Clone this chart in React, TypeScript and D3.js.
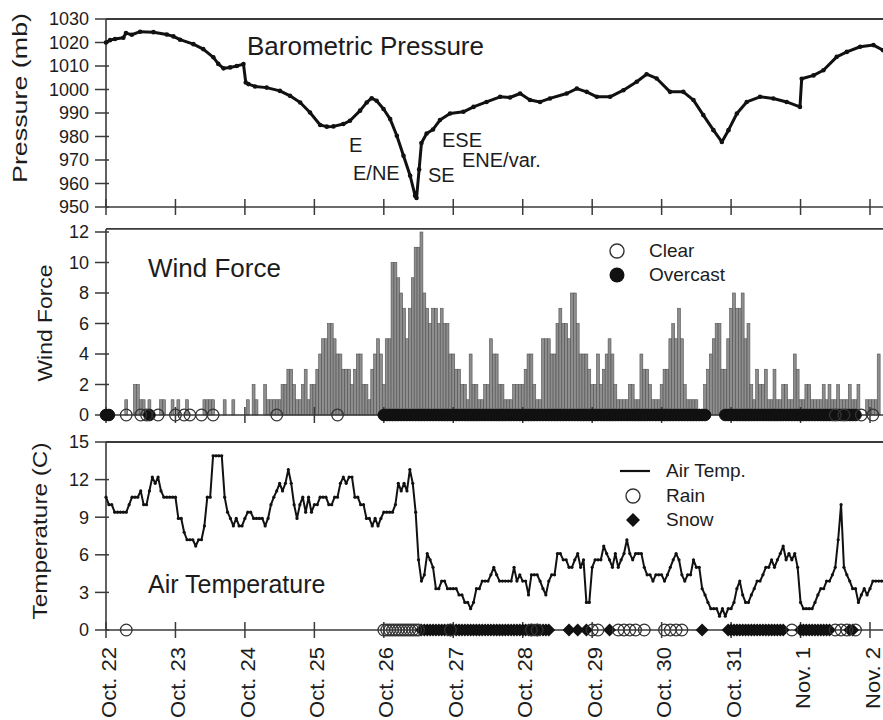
import React from "react";
import * as d3 from "d3";

const FONT = "'Liberation Sans', Arial, Helvetica, sans-serif";

const dayLabels = ["Oct. 22", "Oct. 23", "Oct. 24", "Oct. 25", "Oct. 26", "Oct. 27", "Oct. 28", "Oct. 29", "Oct. 30", "Oct. 31", "Nov. 1", "Nov. 2"];
const pressureTicks = [950, 960, 970, 980, 990, 1000, 1010, 1020, 1030];
const windTicks = [0, 2, 4, 6, 8, 10, 12];
const tempTicks = [0, 3, 6, 9, 12, 15];

// hours since Oct 22 00:00
const pressureHours = [0, 1.4, 3.1, 6, 6.9, 8.9, 11.8, 16.4, 21, 23.3, 25.6, 30.2, 33.6, 37.1, 38.8, 40.6, 42.9, 45.2, 47.5, 48.3, 49.2, 51.5, 55.5, 60.1, 63.6, 67.1, 70.5, 74, 76.3, 78.6, 82, 84.3, 87.8, 90.1, 91.8, 93.5, 95.9, 98.2, 100.5, 102.8, 105.1, 106.8, 107.3, 108.2, 109, 110.8, 113, 115.4, 118.9, 123.5, 127, 131.5, 136.2, 139.6, 143.1, 146.5, 150, 153.4, 159.2, 162.7, 166.1, 169.6, 174.2, 178.8, 183.4, 186.8, 190.3, 194.9, 199.5, 203, 206.4, 209.9, 212.8, 215.1, 218, 221.4, 226, 230.6, 235.2, 239.8, 240.4, 244.5, 247.9, 252.5, 256, 260.6, 265.2, 268.5];
const pressureMb = [1020, 1021, 1021.5, 1022, 1024, 1023.3, 1024.6, 1024.4, 1023.4, 1022.6, 1021.2, 1019.3, 1017.2, 1013.7, 1010.9, 1009, 1009.4, 1010, 1010.8, 1003, 1002.3, 1001.3, 1000.8, 999.4, 997.3, 994.5, 990.2, 984.9, 984.2, 984.3, 985.3, 986.7, 991, 994.5, 996.3, 995.2, 991.7, 987.4, 980.3, 971.8, 963.3, 954.8, 953.8, 966, 977.2, 981.3, 983, 987, 989.8, 990.5, 992.6, 994.7, 996.9, 996.6, 998.3, 995.5, 994.7, 996.2, 998.3, 1000.4, 999, 996.9, 996.9, 999.7, 1003.3, 1006.5, 1004.7, 999, 999, 995.5, 989.1, 982.7, 977.7, 982.7, 989.8, 994.7, 996.9, 996.2, 994.7, 992.6, 1004.6, 1006, 1008.2, 1013.9, 1016, 1018.2, 1018.9, 1016.7];

// hourly wind force from Oct 22 00:00
const windForce = [
  0, 0, 0, 0, 0, 0, 0, 1, 0, 0, 2, 2, 1, 1, 0, 1, 0, 0, 0, 1, 1, 0, 0, 1,
  0, 1, 0, 0, 1, 0, 0, 0, 0, 0, 1, 1, 1, 1, 0, 0, 0, 1, 0, 0, 1, 0, 0, 0,
  0, 1, 0, 2, 1, 0, 0, 2, 1, 1, 1, 1, 1, 2, 2, 3, 3, 2, 1, 1, 2, 3, 1, 2,
  2, 3, 4, 5, 5, 6, 6, 5, 4, 4, 3, 3, 3, 2, 3, 4, 4, 2, 2, 1, 3, 4, 5, 4,
  2, 5, 5, 10, 10, 9, 8, 7, 5, 7, 9, 11, 11, 12, 8, 7, 6, 7, 7, 6, 7, 6, 6, 4,
  4, 3, 3, 2, 2, 1, 4, 2, 2, 1, 1, 2, 2, 5, 4, 4, 2, 2, 1, 1, 1, 2, 2, 2,
  2, 3, 4, 4, 2, 1, 1, 5, 5, 5, 4, 4, 6, 7, 6, 6, 5, 8, 8, 6, 4, 4, 4, 3,
  2, 2, 4, 2, 3, 4, 5, 4, 2, 1, 1, 1, 1, 2, 2, 1, 1, 4, 3, 3, 2, 1, 1, 1,
  2, 3, 3, 5, 6, 5, 7, 5, 2, 1, 1, 1, 1, 0, 0, 2, 3, 4, 5, 6, 6, 3, 3, 5,
  7, 8, 7, 7, 8, 5, 6, 2, 1, 3, 2, 2, 3, 1, 1, 3, 1, 1, 2, 2, 1, 1, 4, 3,
  1, 1, 2, 2, 1, 1, 1, 1, 2, 1, 2, 1, 1, 2, 1, 1, 1, 2, 1, 1, 2, 0, 0, 1,
  1, 1, 1, 4
];

// hourly air temperature (C) from Oct 22 00:00
const airTemp = [
  10.6, 10.0, 10.0, 9.4, 9.4, 9.4, 9.4, 9.4, 10.0, 10.6, 10.6, 10.6, 11.1, 10.0, 10.0, 11.1, 12.2, 11.7, 12.2, 11.1, 10.6, 10.6, 10.6, 10.6,
  10.6, 8.9, 8.9, 7.8, 7.2, 7.2, 7.2, 6.7, 7.2, 7.2, 8.3, 10.6, 10.6, 13.9, 13.9, 13.9, 13.9, 10.6, 9.4, 8.9, 8.3, 8.9, 8.3, 8.3,
  8.9, 9.4, 9.4, 8.9, 8.9, 8.9, 8.9, 8.3, 8.9, 10.0, 10.6, 11.1, 11.7, 11.1, 11.7, 12.8, 11.7, 10.0, 8.9, 10.0, 10.6, 9.4, 10.6, 9.4,
  10.0, 10.0, 10.6, 10.6, 10.6, 10.0, 10.0, 10.6, 10.6, 11.7, 12.2, 11.7, 12.2, 12.2, 10.6, 10.6, 10.0, 10.0, 8.9, 8.9, 8.3, 8.9, 8.3, 8.9,
  9.4, 9.4, 9.4, 9.4, 10.0, 11.7, 11.1, 11.7, 11.1, 12.8, 11.7, 9.4, 5.6, 3.9, 4.4, 6.1, 5.6, 5.0, 3.3, 3.3, 3.9, 3.9, 3.3, 3.3,
  3.3, 3.3, 2.8, 2.8, 2.2, 2.2, 1.7, 2.2, 3.3, 3.3, 3.9, 3.9, 3.9, 4.4, 5.0, 4.4, 3.9, 3.9, 3.9, 3.9, 3.9, 5.0, 3.9, 4.4, 3.9, 3.9,
  2.8, 4.4, 4.4, 4.4, 3.9, 3.3, 2.8, 3.9, 4.4, 4.4, 6.1, 6.1, 5.6, 5.6, 5.0, 5.0, 5.6, 6.1, 5.0, 5.6, 2.2, 2.2, 5.0, 5.6, 5.6, 5.6,
  6.7, 6.1, 5.6, 5.0, 6.1, 5.0, 5.6, 6.1, 7.2, 6.1, 5.6, 6.1, 6.1, 6.1, 5.0, 4.4, 4.4, 3.9, 4.4, 4.4, 4.4, 3.9, 4.4, 5.0, 5.6, 6.1,
  5.6, 4.4, 3.9, 4.4, 4.4, 5.6, 5.0, 5.0, 3.3, 2.8, 2.2, 1.7, 1.7, 1.7, 1.1, 1.7, 1.1, 1.7, 1.7, 2.2, 3.3, 3.9, 2.8, 2.2, 2.2, 2.8,
  3.3, 3.9, 3.9, 4.4, 5.0, 5.0, 5.6, 5.0, 5.6, 6.1, 6.7, 5.6, 6.1, 5.6, 6.1, 5.0, 2.2, 1.7, 1.7, 1.7, 1.7, 2.2, 2.8, 3.3, 3.3, 3.9,
  3.9, 4.4, 5.0, 7.2, 10.0, 5.0, 4.4, 3.9, 3.3, 3.3, 2.2, 2.8, 3.3, 2.8, 3.3, 3.9, 3.9, 3.9, 3.9
];

const clearHours = [7, 12, 14, 18, 24, 27, 29, 33, 37, 59, 80, 252, 255, 261, 265];
const overcastSpans = [[0, 1], [15, 15], [96, 207], [214, 251], [253, 254], [256, 259]];
const rainHours = [7, 96, 97, 98, 99, 100, 101, 102, 103, 104, 105, 106, 107, 108, 119, 147, 149, 168, 170, 177, 179, 181, 183, 186, 193, 195, 197, 199, 237, 252, 254, 256, 259];
const snowSpans = [[109, 153], [160, 160], [163, 163], [166, 166], [174, 174], [206, 206], [215, 234], [240, 250], [257, 258]];

const expand = (spans: number[][]) => spans.flatMap(([a, b]) => d3.range(a, b + 1));

const x = d3.scaleLinear().domain([0, 264]).range([106, 870]);
const yP = d3.scaleLinear().domain([950, 1030]).range([207, 19]);
const yW = d3.scaleLinear().domain([0, 12]).range([415, 232]);
const yT = d3.scaleLinear().domain([0, 15]).range([630, 442]);

const AX = "#3a3a3a";
const TXT = "#1c1c1c";
const RIGHT = 883;

function YAxis({ scale, ticks, top }: { scale: any; ticks: number[]; top: number }) {
  const x0 = x(0);
  return (
    <g>
      <line x1={x0} x2={x0} y1={top} y2={scale(ticks[0])} stroke={AX} strokeWidth={1.6} />
      {ticks.map((t) => (
        <g key={t}>
          <line x1={x0 - 11} x2={x0 + 3} y1={scale(t)} y2={scale(t)} stroke={AX} strokeWidth={1.5} />
          <text x={89} y={scale(t)} dy="0.36em" textAnchor="end" fontSize={18} fill={TXT}>
            {t}
          </text>
        </g>
      ))}
    </g>
  );
}

function XAxis({ y0 }: { y0: number }) {
  return (
    <g>
      <line x1={x(0)} x2={RIGHT} y1={y0} y2={y0} stroke={AX} strokeWidth={1.6} />
      {dayLabels.map((_, i) => (
        <line key={i} x1={x(i * 24)} x2={x(i * 24)} y1={y0 - 8} y2={y0 + 8} stroke={AX} strokeWidth={1.5} />
      ))}
    </g>
  );
}

function RotTitle({ bx, cy, text, len }: { bx: number; cy: number; text: string; len: number }) {
  return (
    <text
      transform={`translate(${bx},${cy}) rotate(-90)`}
      textAnchor="middle"
      fontSize={21}
      fill={TXT}
      textLength={len}
      lengthAdjust="spacingAndGlyphs"
    >
      {text}
    </text>
  );
}

function Diamond({ cx, cy, r }: { cx: number; cy: number; r: number }) {
  return <path d={`M${cx},${cy - r}L${cx + r},${cy}L${cx},${cy + r}L${cx - r},${cy}Z`} fill="#111" />;
}

export default function App() {
  const pLine = d3
    .line<number>()
    .x((_, i) => x(pressureHours[i]))
    .y((d) => yP(d))(pressureMb) as string;
  const tLine = d3
    .line<number>()
    .x((_, i) => x(i))
    .y((d) => yT(d))(airTemp) as string;
  const bw = x(1) - x(0);
  const overcast = expand(overcastSpans);
  const snow = expand(snowSpans);

  return (
    <svg width={883} height={720} style={{ position: "fixed", left: 0, top: 0, background: "#fff" }} fontFamily={FONT}>
      <rect width={883} height={720} fill="#fff" />

      {/* ---------- Pressure panel ---------- */}
      <line x1={x(0)} x2={RIGHT} y1={19} y2={19} stroke={AX} strokeWidth={1.8} />
      <XAxis y0={207} />
      <YAxis scale={yP} ticks={pressureTicks} top={19} />
      <RotTitle bx={27} cy={98} text="Pressure (mb)" len={170} />
      <text x={247} y={55} fontSize={26} fill={TXT}>Barometric Pressure</text>
      <path d={pLine} fill="none" stroke="#111" strokeWidth={3} strokeLinejoin="round" />
      {pressureMb.map((p, i) => (
        <circle key={i} cx={x(pressureHours[i])} cy={yP(p)} r={2.3} fill="#111" />
      ))}
      <g fontSize={20} fill={TXT}>
        <text x={349} y={152}>E</text>
        <text x={353} y={180}>E/NE</text>
        <text x={428} y={182}>SE</text>
        <text x={442} y={147}>ESE</text>
        <text x={462} y={167}>ENE/var.</text>
      </g>

      {/* ---------- Wind panel ---------- */}
      <line x1={x(0)} x2={RIGHT} y1={yW(12.2)} y2={yW(12.2)} stroke={AX} strokeWidth={1.8} />
      {windForce.map((v, h) =>
        v > 0 ? (
          <rect key={h} x={x(h) - bw / 2} y={yW(v)} width={bw} height={yW(0) - yW(v)} fill="#8e8e8e" stroke="#505050" strokeWidth={0.6} />
        ) : null
      )}
      <XAxis y0={415} />
      <YAxis scale={yW} ticks={windTicks} top={yW(12.2)} />
      <RotTitle bx={52} cy={323} text="Wind Force" len={117} />
      <text x={148} y={277} fontSize={26} fill={TXT}>Wind Force</text>
      {overcast.map((h) => (
        <circle key={"o" + h} cx={x(h)} cy={yW(0)} r={5.8} fill="#111" stroke="#111" strokeWidth={1} />
      ))}
      {clearHours.map((h) => (
        <circle key={"c" + h} cx={x(h)} cy={yW(0)} r={5.8} fill="none" stroke="#333" strokeWidth={1.3} />
      ))}
      <circle cx={617} cy={251} r={7} fill="#fff" stroke="#333" strokeWidth={1.4} />
      <text x={649} y={257} fontSize={19} fill={TXT}>Clear</text>
      <circle cx={617} cy={275} r={7.5} fill="#111" />
      <text x={649} y={281} fontSize={19} fill={TXT}>Overcast</text>

      {/* ---------- Temperature panel ---------- */}
      <line x1={x(0)} x2={RIGHT} y1={442} y2={442} stroke={AX} strokeWidth={1.8} />
      <XAxis y0={630} />
      <YAxis scale={yT} ticks={tempTicks} top={442} />
      <RotTitle bx={47} cy={531} text="Temperature (C)" len={177} />
      <text x={148} y={593} fontSize={25} fill={TXT}>Air Temperature</text>
      <path d={tLine} fill="none" stroke="#111" strokeWidth={2} strokeLinejoin="round" />
      {airTemp.map((t, h) => (
        <circle key={h} cx={x(h)} cy={yT(t)} r={1.6} fill="#111" />
      ))}
      {snow.map((h) => (
        <Diamond key={"s" + h} cx={x(h)} cy={yT(0)} r={6.5} />
      ))}
      {rainHours.map((h) => (
        <circle key={"r" + h} cx={x(h)} cy={yT(0)} r={5.8} fill="none" stroke="#333" strokeWidth={1.3} />
      ))}
      <line x1={620} x2={650} y1={471} y2={471} stroke="#111" strokeWidth={2.2} />
      <text x={666} y={477} fontSize={19} fill={TXT}>Air Temp.</text>
      <circle cx={633} cy={496} r={7} fill="#fff" stroke="#333" strokeWidth={1.4} />
      <text x={666} y={502} fontSize={19} fill={TXT}>Rain</text>
      <Diamond cx={633} cy={520} r={7} />
      <text x={666} y={526} fontSize={19} fill={TXT}>Snow</text>

      {/* ---------- X labels ---------- */}
      {dayLabels.map((lab, i) => (
        <text
          key={lab}
          transform={`translate(${x(i * 24)},647) rotate(-90) scale(1.1,1)`}
          textAnchor="end"
          dy="0.48em"
          fontSize={20}
          fill={TXT}
        >
          {lab}
        </text>
      ))}
    </svg>
  );
}
